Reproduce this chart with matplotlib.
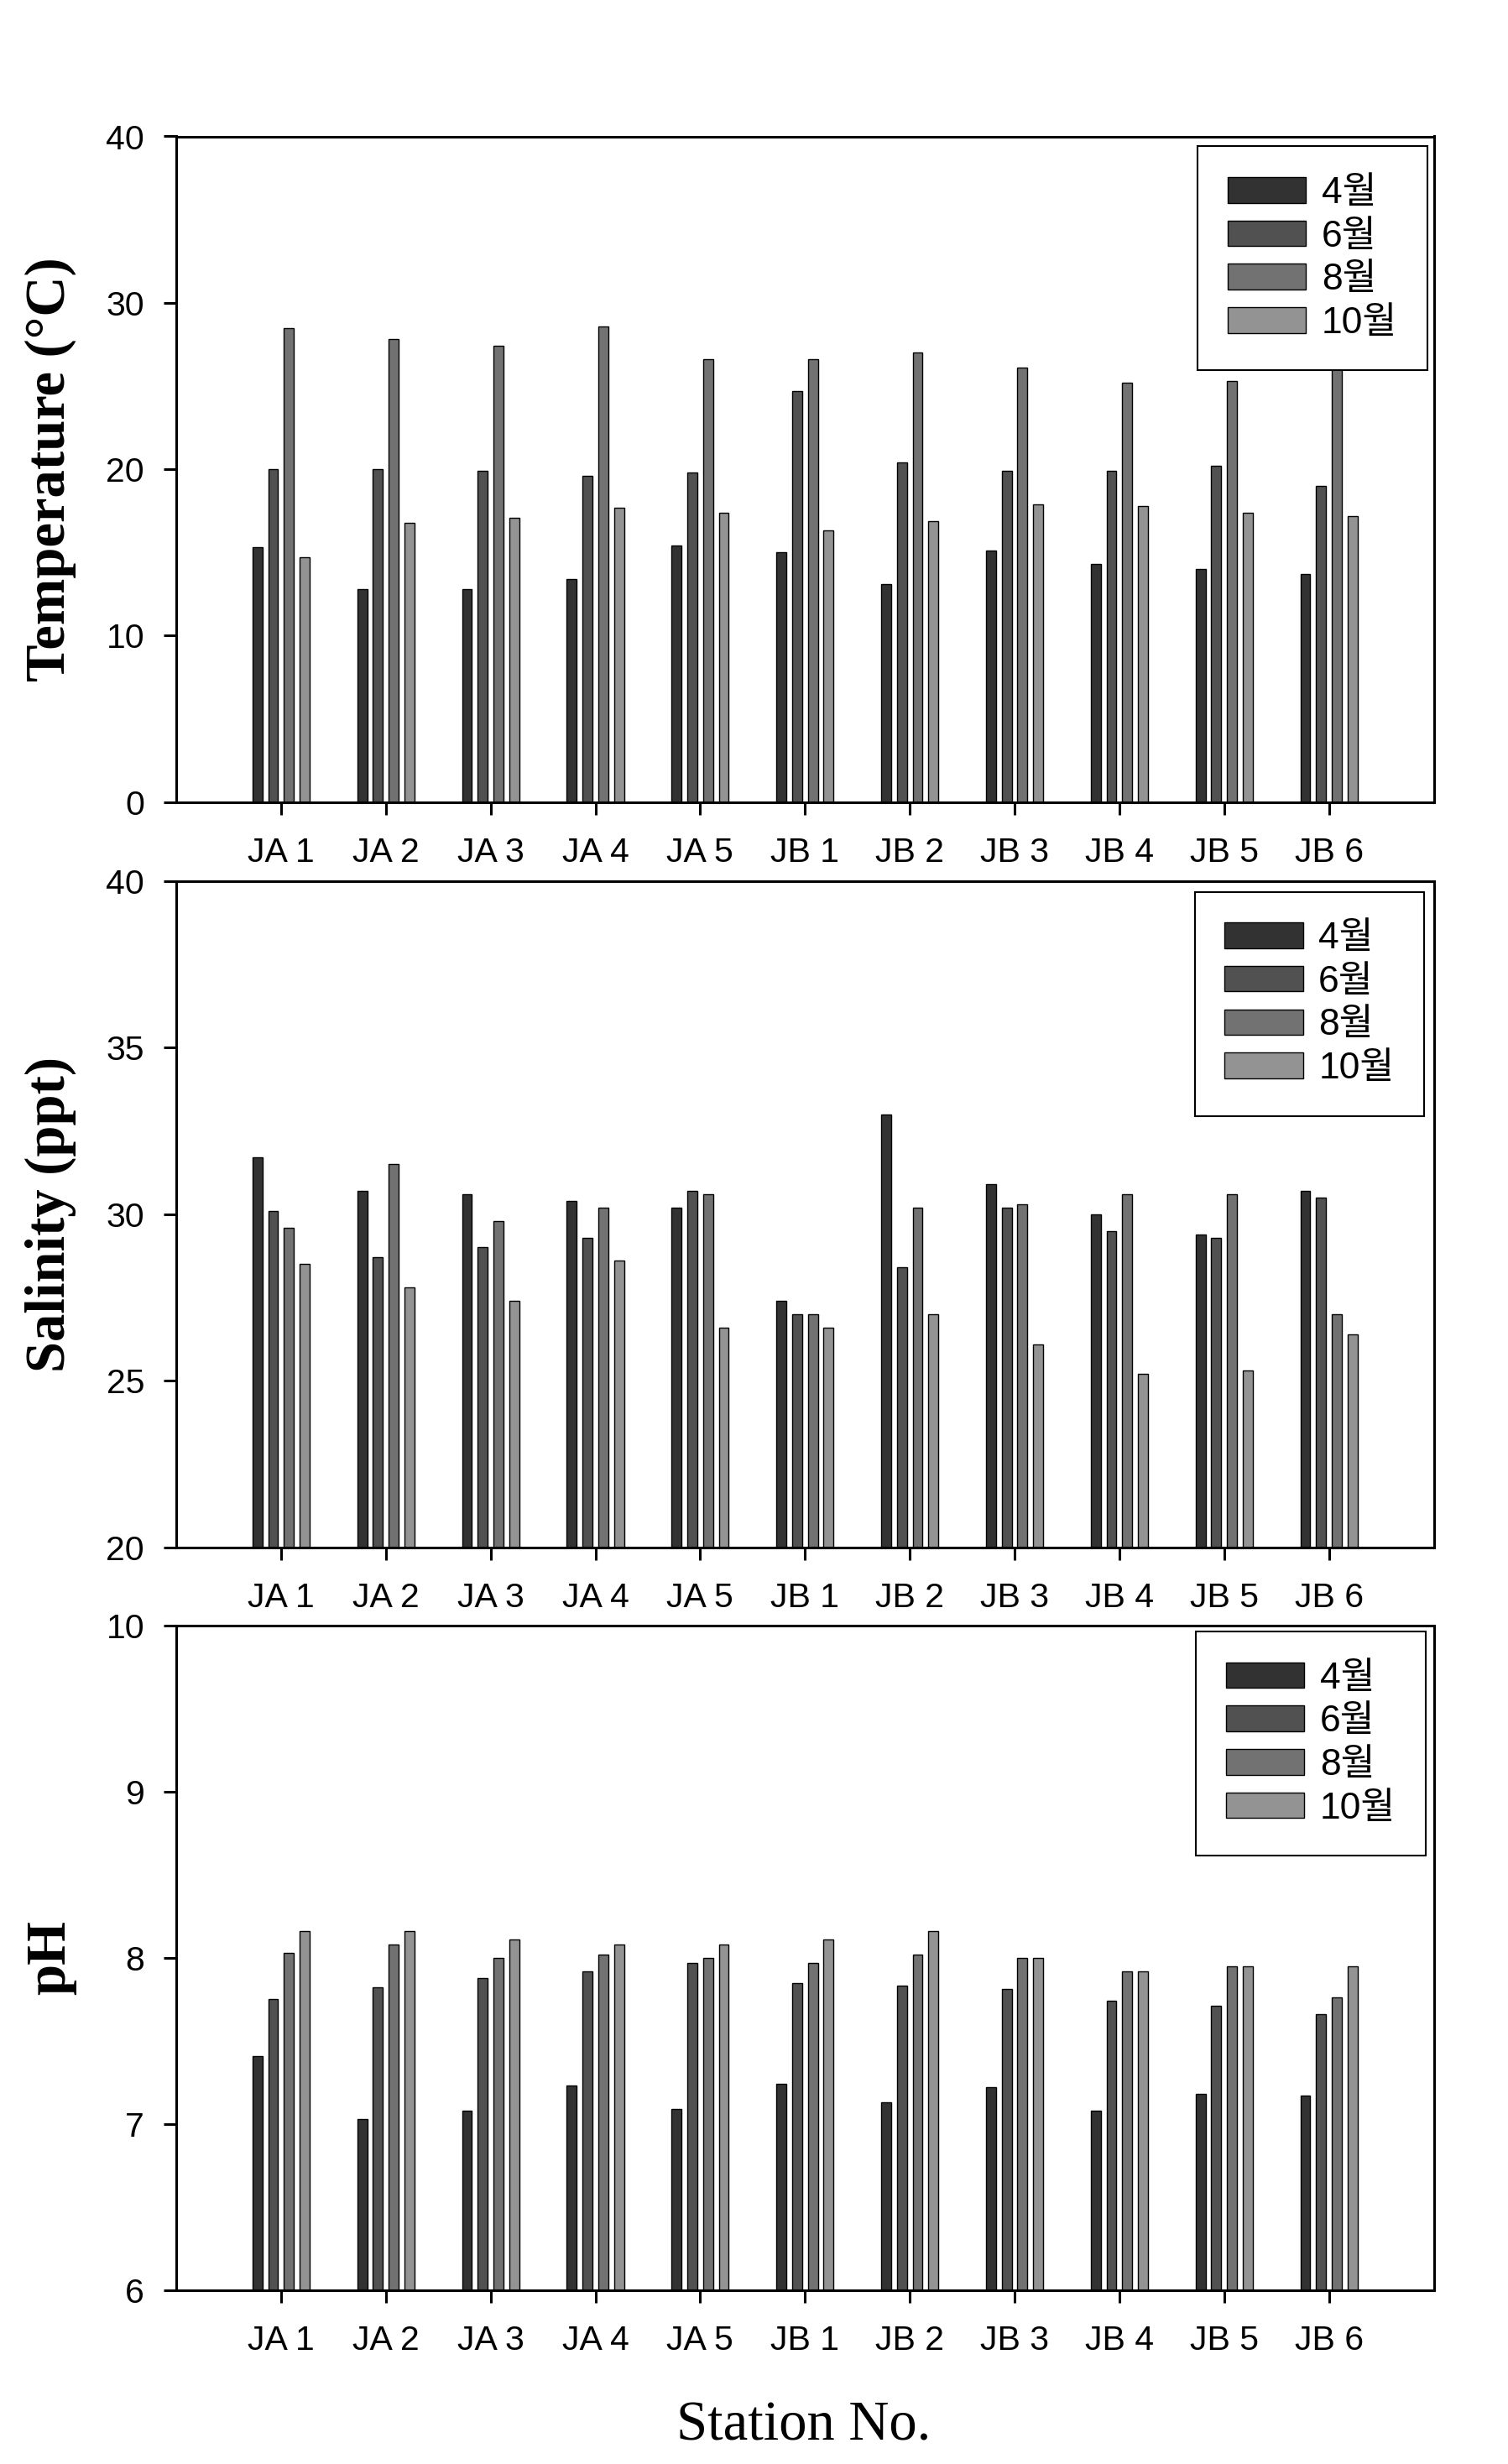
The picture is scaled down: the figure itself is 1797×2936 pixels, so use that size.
import matplotlib
matplotlib.use("Agg")
import matplotlib.pyplot as plt
import numpy as np
from matplotlib.font_manager import FontProperties

stations = ["JA 1", "JA 2", "JA 3", "JA 4", "JA 5", "JB 1", "JB 2", "JB 3", "JB 4", "JB 5", "JB 6"]
months = ["4월", "6월", "8월", "10월"]

temp_apr = [15.3, 12.8, 12.8, 13.4, 15.4, 15.0, 13.1, 15.1, 14.3, 14.0, 13.7]
temp_jun = [20.0, 20.0, 19.9, 19.6, 19.8, 24.7, 20.4, 19.9, 19.9, 20.2, 19.0]
temp_aug = [28.5, 27.8, 27.4, 28.6, 26.6, 26.6, 27.0, 26.1, 25.2, 25.3, 27.5]
temp_oct = [14.7, 16.8, 17.1, 17.7, 17.4, 16.3, 16.9, 17.9, 17.8, 17.4, 17.2]

sal_apr = [31.7, 30.7, 30.6, 30.4, 30.2, 27.4, 33.0, 30.9, 30.0, 29.4, 30.7]
sal_jun = [30.1, 28.7, 29.0, 29.3, 30.7, 27.0, 28.4, 30.2, 29.5, 29.3, 30.5]
sal_aug = [29.6, 31.5, 29.8, 30.2, 30.6, 27.0, 30.2, 30.3, 30.6, 30.6, 27.0]
sal_oct = [28.5, 27.8, 27.4, 28.6, 26.6, 26.6, 27.0, 26.1, 25.2, 25.3, 26.4]

ph_apr = [7.41, 7.03, 7.08, 7.23, 7.09, 7.24, 7.13, 7.22, 7.08, 7.18, 7.17]
ph_jun = [7.75, 7.82, 7.88, 7.92, 7.97, 7.85, 7.83, 7.81, 7.74, 7.71, 7.66]
ph_aug = [8.03, 8.08, 8.00, 8.02, 8.00, 7.97, 8.02, 8.00, 7.92, 7.95, 7.76]
ph_oct = [8.16, 8.16, 8.11, 8.08, 8.08, 8.11, 8.16, 8.00, 7.92, 7.95, 7.95]

W, H = 1797, 2936
fig = plt.figure(figsize=(W / 100, H / 100), dpi=100)

colors = ["#323232", "#515151", "#727272", "#939393"]
offsets = [-0.225, -0.075, 0.075, 0.225]
bar_w = 0.095

panels = [
    dict(series=[temp_apr, temp_jun, temp_aug, temp_oct], ylim=(0, 40), ticks=[0, 10, 20, 30, 40],
         label="Temperature (°C)", top=162.5, bottom=955.7, leg=(1700.7, 174.3)),
    dict(series=[sal_apr, sal_jun, sal_aug, sal_oct], ylim=(20, 40), ticks=[20, 25, 30, 35, 40],
         label="Salinity (ppt)", top=1050.0, bottom=1843.6, leg=(1697.0, 1062.5)),
    dict(series=[ph_apr, ph_jun, ph_aug, ph_oct], ylim=(6, 10), ticks=[6, 7, 8, 9, 10],
         label="pH", top=1937.0, bottom=2728.7, leg=(1698.5, 1944.0)),
]

left_px, right_px = 210.0, 1708.5
tick_font = FontProperties(family="Liberation Sans", size=29.5)
leg_font = FontProperties(family=["Liberation Sans", "Noto Sans CJK KR"], size=32)
x = np.arange(len(stations))

for p in panels:
    ax = fig.add_axes([left_px / W, 1 - p["bottom"] / H, (right_px - left_px) / W,
                       (p["bottom"] - p["top"]) / H])
    handles = []
    for j, vals in enumerate(p["series"]):
        b = ax.bar(x + offsets[j], vals, width=bar_w, color=colors[j], edgecolor="black",
                   linewidth=1.0, zorder=2, label=months[j])
        handles.append(b)
    ax.set_xlim(-1, len(stations))
    ax.set_ylim(*p["ylim"])
    ax.set_yticks(p["ticks"])
    ax.set_xticks(x)
    ax.set_xticklabels(stations, fontproperties=tick_font)
    ax.set_yticklabels([str(t) for t in p["ticks"]], fontproperties=tick_font)
    for s in ax.spines.values():
        s.set_linewidth(2.2)
    ax.tick_params(axis="both", direction="out", length=10.8, width=2.2, top=False, right=False)
    ax.tick_params(axis="y", pad=16.5)
    ax.tick_params(axis="x", pad=19)
    # legend
    lx = (p["leg"][0] - left_px) / (right_px - left_px)
    ly = (p["bottom"] - p["leg"][1]) / (p["bottom"] - p["top"])
    leg = ax.legend(handles, months, loc="upper right", bbox_to_anchor=(lx, ly), borderaxespad=0,
                    frameon=True, fancybox=False, framealpha=1, edgecolor="black", prop=leg_font,
                    handlelength=2.1, handleheight=0.68, labelspacing=0.24, borderpad=0.8,
                    handletextpad=0.42)
    leg.get_frame().set_linewidth(1.5)
    leg.set_zorder(10)
    # y label
    yc = 1 - (p["top"] + p["bottom"]) / 2 / H
    fig.text(77 / W, yc, p["label"], rotation=90, rotation_mode="anchor", ha="center",
             va="baseline", family="Liberation Serif", weight="bold", size=48)

fig.text(958 / W, 1 - 2908 / H, "Station No.", ha="center", va="baseline",
         family="Liberation Serif", size=48)

fig.savefig("out.png", dpi=100, facecolor="white")
